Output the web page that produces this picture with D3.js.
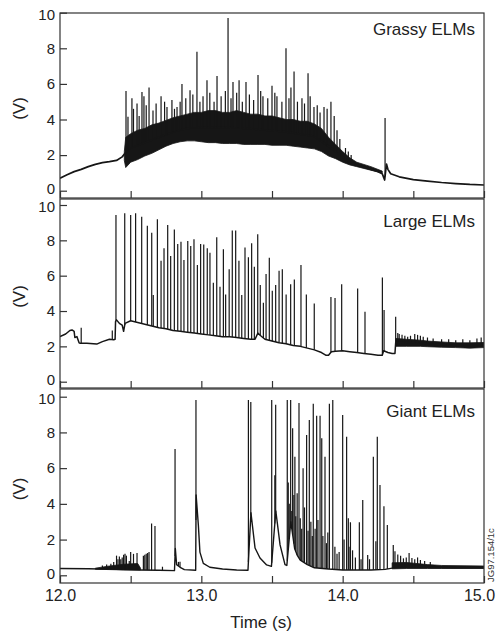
<!DOCTYPE html>
<html><head><meta charset="utf-8">
<script src="https://cdn.jsdelivr.net/npm/d3@7"></script>
<style>body{margin:0;background:#fff}svg{display:block}</style>
</head><body>
<svg id="c" width="496" height="634"></svg>
<script>
// ---------------- DATA ----------------
const X_TICKS = [12, 12.5, 13, 13.5, 14, 14.5, 15];
const X_LABELS = ["12.0", "", "13.0", "", "14.0", "", "15.0"];
const Y_TICKS = [0, 2, 4, 6, 8, 10];
const TITLES = ["Grassy ELMs", "Large ELMs", "Giant ELMs"];
const Y_LABEL = "(V)";
const X_LABEL = "Time (s)";
const FIG_ID = "JG97.154/1c";

// Grassy ELMs: baseline [t, V], dense band [t, low, high], spikes [t, peak]
const grassyBase = [[12.0,0.7],[12.05,0.9],[12.1,1.07],[12.15,1.2],[12.2,1.35],[12.25,1.48],[12.3,1.58],[12.35,1.63],[12.4,1.7],[12.44,1.9],[12.46,2.1],[12.5,2.4],[12.6,2.7],[12.7,3.0],[12.8,3.3],[12.9,3.5],[13.0,3.55],[13.2,3.55],[13.4,3.45],[13.6,3.3],[13.8,3.05],[13.9,2.5],[14.0,1.9],[14.05,1.6],[14.1,1.45],[14.15,1.32],[14.2,1.2],[14.25,1.07],[14.28,0.95],[14.29,0.75],[14.297,0.6],[14.31,1.5],[14.32,1.2],[14.34,0.95],[14.4,0.78],[14.5,0.62],[14.6,0.54],[14.7,0.46],[14.8,0.4],[14.9,0.35],[15.0,0.32]];
const grassyBand = [[12.455,1.7,2.2],[12.465,1.3,3.0],[12.5,1.6,3.2],[12.55,1.75,3.4],[12.6,1.95,3.5],[12.65,2.1,3.7],[12.7,2.3,3.8],[12.75,2.5,3.95],[12.8,2.65,4.1],[12.85,2.75,4.2],[12.9,2.8,4.3],[12.95,2.8,4.4],[13.0,2.75,4.4],[13.05,2.7,4.5],[13.1,2.7,4.5],[13.15,2.65,4.4],[13.2,2.65,4.4],[13.25,2.65,4.5],[13.3,2.6,4.4],[13.35,2.6,4.3],[13.4,2.6,4.3],[13.45,2.6,4.2],[13.5,2.55,4.2],[13.55,2.55,4.1],[13.6,2.55,4.0],[13.65,2.5,4.0],[13.7,2.45,3.9],[13.75,2.4,3.9],[13.8,2.35,3.75],[13.85,2.2,3.5],[13.9,1.95,3.0],[13.95,1.8,2.6],[14.0,1.6,2.2],[14.05,1.45,1.85],[14.1,1.35,1.6],[14.2,1.15,1.35],[14.28,1.0,1.1]];
const grassySpikes = [[12.467,5.6],[12.481,4.15],[12.509,5.2],[12.52,4.6],[12.545,4.9],[12.56,4.2],[12.58,5.55],[12.594,5.3],[12.61,4.8],[12.63,5.8],[12.658,4.5],[12.68,4.9],[12.715,5.3],[12.74,5.0],[12.757,4.7],[12.792,5.1],[12.81,4.6],[12.828,4.7],[12.85,5.0],[12.863,6.0],[12.89,5.2],[12.92,5.65],[12.94,5.4],[12.969,7.8],[12.99,5.0],[13.012,5.3],[13.04,6.2],[13.06,5.5],[13.09,5.0],[13.111,6.45],[13.14,5.3],[13.17,5.6],[13.189,9.7],[13.21,5.2],[13.224,6.1],[13.25,5.5],[13.267,6.2],[13.29,5.0],[13.316,6.1],[13.34,5.4],[13.37,5.1],[13.401,6.5],[13.42,5.6],[13.436,5.3],[13.47,5.2],[13.5,5.9],[13.52,5.5],[13.535,5.3],[13.57,5.0],[13.599,8.0],[13.62,5.2],[13.634,5.8],[13.656,6.7],[13.68,5.0],[13.712,5.2],[13.73,4.9],[13.755,6.6],[13.77,5.3],[13.797,4.7],[13.82,4.8],[13.84,4.4],[13.868,4.7],[13.89,4.6],[13.917,5.0],[13.94,4.2],[13.96,3.4],[13.98,2.9],[14.02,2.4],[14.04,2.2],[14.06,2.0],[14.30,4.08]];

// Large ELMs
const largeBase = [[12.0,2.55],[12.04,2.7],[12.07,2.9],[12.085,2.93],[12.1,2.85],[12.105,2.5],[12.12,2.55],[12.135,2.2],[12.14,2.18],[12.19,2.18],[12.26,2.13],[12.3,2.27],[12.35,2.4],[12.38,2.37],[12.39,2.4],[12.393,3.4],[12.4,3.5],[12.42,3.3],[12.44,3.2],[12.45,2.85],[12.46,3.3],[12.5,3.45],[12.55,3.35],[12.6,3.25],[12.65,3.15],[12.7,3.05],[12.75,3.0],[12.8,2.9],[12.85,2.85],[12.9,2.8],[12.95,2.75],[13.0,2.7],[13.05,2.65],[13.1,2.6],[13.15,2.55],[13.2,2.55],[13.25,2.5],[13.3,2.45],[13.35,2.4],[13.38,2.4],[13.4,2.75],[13.42,2.6],[13.45,2.4],[13.5,2.3],[13.55,2.2],[13.6,2.15],[13.65,2.05],[13.7,2.0],[13.75,1.9],[13.8,1.8],[13.85,1.65],[13.88,1.5],[13.9,1.5],[13.92,1.7],[13.95,1.72],[14.0,1.75],[14.05,1.7],[14.1,1.65],[14.15,1.6],[14.2,1.55],[14.25,1.5],[14.28,1.5],[14.29,1.75],[14.32,1.65],[14.35,1.6],[14.37,1.6],[14.375,2.2],[14.4,2.25],[14.5,2.2],[14.6,2.15],[14.7,2.1],[14.8,2.05],[14.9,2.0],[15.0,2.05]];
const largeBand = [[14.375,2.0,2.45],[14.45,2.0,2.4],[14.55,2.0,2.35],[14.6,1.98,2.3],[14.7,1.95,2.25],[14.8,1.93,2.2],[14.9,1.9,2.2],[15.0,1.93,2.22]];
const largeSpikes = [[12.15,3.05],[12.37,2.9],[12.396,9.43],[12.458,9.53],[12.5,9.43],[12.535,9.53],[12.578,9.34],[12.618,8.83],[12.649,8.43],[12.66,4.9],[12.689,9.2],[12.715,6.85],[12.736,7.55],[12.762,8.87],[12.783,7.11],[12.809,8.62],[12.833,7.79],[12.856,7.92],[12.877,6.89],[12.904,7.96],[12.925,7.68],[12.948,8.06],[12.972,6.6],[12.995,7.79],[13.017,7.77],[13.042,7.55],[13.061,7.3],[13.085,5.6],[13.109,8.17],[13.132,5.38],[13.156,7.49],[13.172,4.94],[13.197,6.36],[13.219,8.55],[13.243,8.55],[13.266,6.85],[13.286,4.9],[13.309,7.6],[13.333,7.04],[13.356,7.83],[13.375,6.51],[13.399,8.34],[13.417,5.47],[13.439,4.47],[13.458,6.09],[13.481,7.02],[13.502,5.15],[13.526,5.47],[13.55,6.28],[13.573,6.36],[13.6,4.94],[13.632,5.51],[13.658,5.79],[13.705,6.6],[13.743,4.94],[13.799,4.43],[13.917,4.79],[13.946,4.73],[13.993,5.52],[14.106,5.28],[14.158,3.96],[14.281,5.89],[14.293,4.06],[14.375,3.68],[14.39,2.75],[14.4,2.7],[14.42,2.65],[14.44,2.6],[14.46,2.55],[14.48,2.6],[14.51,2.7],[14.53,2.65],[14.55,2.6],[14.57,2.55],[14.6,2.5],[14.64,2.45],[14.7,2.4],[14.75,2.4],[14.8,2.35],[14.85,2.4],[14.9,2.35],[14.95,2.45],[14.98,2.5]];

// Giant ELMs
const giantBase = [[12.0,0.38],[12.2,0.37],[12.4,0.33],[12.56,0.3],[12.7,0.28],[12.81,0.26],[12.816,1.5],[12.825,0.6],[12.85,0.45],[12.88,0.32],[12.96,0.28],[12.963,4.5],[12.979,2.8],[12.99,1.3],[13.014,0.67],[13.06,0.45],[13.15,0.35],[13.25,0.3],[13.33,0.28],[13.351,3.5],[13.38,1.53],[13.415,0.97],[13.462,0.58],[13.496,0.5],[13.527,3.6],[13.557,1.7],[13.592,0.6],[13.605,0.55],[13.633,3.0],[13.66,1.5],[13.68,1.1],[13.7,0.85],[13.75,0.6],[13.8,0.42],[13.9,0.35],[14.0,0.3],[14.2,0.3],[14.3,0.33],[14.35,0.4],[14.45,0.45],[14.6,0.45],[14.8,0.42],[15.0,0.42]];
const giantBand = [[12.25,0.34,0.4],[12.35,0.32,0.52],[12.45,0.3,0.62],[12.55,0.3,0.66],[12.57,0.3,0.4]];
const giantBand2 = [[14.35,0.36,0.7],[14.45,0.38,0.72],[14.6,0.38,0.6],[14.7,0.38,0.55],[15.0,0.38,0.52]];
const giantSpikes = [[12.3,0.55],[12.33,0.6],[12.36,0.65],[12.38,0.75],[12.4,1.1],[12.41,0.9],[12.42,1.05],[12.43,0.9],[12.44,1.0],[12.45,1.15],[12.46,1.2],[12.47,1.1],[12.49,0.8],[12.5,1.3],[12.52,1.2],[12.545,1.25],[12.59,1.1],[12.6,1.15],[12.61,1.2],[12.62,1.25],[12.63,1.3],[12.648,2.9],[12.672,2.76],[12.725,0.48],[12.814,7.07],[12.838,0.75],[12.849,0.76],[12.962,9.82],[13.333,9.82],[13.35,9.7],[13.498,9.82],[13.52,5.6],[13.526,9.55],[13.608,9.82],[13.615,5.2],[13.622,4.0],[13.632,9.82],[13.64,3.6],[13.646,8.23],[13.655,4.5],[13.662,6.64],[13.668,3.3],[13.678,4.6],[13.691,9.65],[13.7,3.2],[13.71,2.6],[13.72,5.99],[13.73,3.8],[13.745,7.85],[13.755,2.5],[13.764,8.7],[13.775,3.0],[13.785,2.2],[13.792,9.6],[13.805,2.6],[13.816,8.94],[13.825,3.1],[13.84,8.94],[13.852,7.67],[13.86,2.2],[13.875,6.64],[13.885,1.8],[13.895,2.4],[13.906,9.6],[13.93,9.82],[13.945,1.6],[13.96,1.2],[13.975,1.3],[14.0,8.98],[14.01,2.0],[14.028,7.76],[14.04,3.2],[14.045,1.6],[14.055,2.97],[14.07,1.4],[14.09,1.0],[14.118,2.97],[14.13,0.9],[14.142,4.22],[14.177,1.14],[14.19,0.9],[14.217,6.64],[14.235,1.9],[14.245,7.76],[14.264,5.06],[14.292,3.86],[14.316,2.82],[14.358,1.7],[14.37,1.35],[14.39,1.16],[14.41,1.1],[14.43,0.95],[14.45,1.0],[14.47,1.25],[14.49,0.97],[14.51,0.9],[14.53,1.0],[14.55,0.85],[14.58,0.8],[14.62,0.75]];

// ---------------- LAYOUT ----------------
const svg = d3.select("#c");
const FONT = "'Liberation Sans', Arial, Helvetica, sans-serif";
const x = d3.scaleLinear().domain([12, 15]).range([60, 484]);
const layout = [
  {top: 13, bottom: 198, y0: 190.7, y10: 12.7, titleY: 35, base: grassyBase, bands: [grassyBand], spikes: grassySpikes, sw: 1.7},
  {top: 199, bottom: 388, y0: 381.7, y10: 205, titleY: 227, base: largeBase, bands: [largeBand], spikes: largeSpikes, sw: 1.5},
  {top: 389, bottom: 583, y0: 575.3, y10: 396.7, titleY: 417, base: giantBase, bands: [giantBand, giantBand2], spikes: giantSpikes, sw: 1.4}
];
const INK = "#161616";

layout.forEach((p, i) => {
  const y = d3.scaleLinear().domain([0, 10]).range([p.y0, p.y10]);
  const g = svg.append("g");
  const cid = "clip" + i;
  svg.append("clipPath").attr("id", cid).append("rect")
    .attr("x", 60).attr("y", p.top).attr("width", 424).attr("height", p.bottom - p.top);
  const plot = g.append("g").attr("clip-path", `url(#${cid})`);

  p.bands.forEach(b => {
    plot.append("path").datum(b)
      .attr("d", d3.area().x(d => x(d[0])).y0(d => y(d[1])).y1(d => y(d[2])))
      .attr("fill", INK).attr("stroke", INK).attr("stroke-width", 0.8);
  });
  plot.append("path").datum(p.base)
    .attr("d", d3.line().x(d => x(d[0])).y(d => y(d[1])))
    .attr("fill", "none").attr("stroke", INK).attr("stroke-width", p.sw).attr("stroke-linejoin", "round");

  const bis = d3.bisector(d => d[0]).left;
  const baseAt = t => {
    const k = Math.max(1, Math.min(p.base.length - 1, bis(p.base, t)));
    const a = p.base[k - 1], b = p.base[k];
    return a[1] + (b[1] - a[1]) * (t - a[0]) / (b[0] - a[0]);
  };
  plot.selectAll("line.sp").data(p.spikes).join("line").attr("class", "sp")
    .attr("x1", d => x(d[0])).attr("x2", d => x(d[0]))
    .attr("y1", d => y(baseAt(d[0]))).attr("y2", d => y(d[1]))
    .attr("stroke", INK).attr("stroke-width", 1.2);

  // frame
  g.append("rect").attr("x", 60).attr("y", p.top).attr("width", 424).attr("height", p.bottom - p.top)
    .attr("fill", "none").attr("stroke", "#333").attr("stroke-width", 1.2);

  // y axis
  const ya = g.append("g").attr("transform", "translate(60,0)")
    .call(d3.axisLeft(y).tickValues(Y_TICKS).tickSize(-7).tickPadding(5).tickFormat(d3.format("d")));
  ya.select(".domain").remove();
  ya.selectAll("line").attr("stroke", "#333").attr("stroke-width", 1.2);
  ya.selectAll("text").attr("font-family", FONT).attr("font-size", 15).attr("fill", "#222")
    .attr("y", d => d === 0 ? -2 : (d === 10 ? 2 : 0));

  // x axis (ticks on every panel, labels on the last)
  const last = i === layout.length - 1;
  const xa = g.append("g").attr("transform", `translate(0,${p.bottom})`)
    .call(d3.axisBottom(x).tickValues(X_TICKS).tickSize(-7).tickPadding(7)
      .tickFormat((d, k) => last ? X_LABELS[k] : ""));
  xa.select(".domain").remove();
  xa.selectAll("line").attr("stroke", "#333").attr("stroke-width", 1.2);
  xa.selectAll("text").attr("font-family", FONT).attr("font-size", 16).attr("fill", "#222")
    .attr("dx", (d, k) => k === X_TICKS.length - 1 ? -5 : 0);

  // y label
  g.append("text").attr("transform", `translate(25,${(p.top + p.bottom) / 2 + 3}) rotate(-90)`)
    .attr("text-anchor", "middle").attr("font-family", FONT).attr("font-size", 17).attr("fill", "#222")
    .text(Y_LABEL);
  // title
  g.append("text").attr("x", 475).attr("y", p.titleY).attr("text-anchor", "end")
    .attr("font-family", FONT).attr("font-size", 17).attr("fill", "#222").text(TITLES[i]);
});

svg.append("text").attr("x", 261).attr("y", 628).attr("text-anchor", "middle")
  .attr("font-family", FONT).attr("font-size", 17).attr("fill", "#222").text(X_LABEL);
svg.append("text").attr("transform", "translate(494,582) rotate(-90)")
  .attr("font-family", FONT).attr("font-size", 9.5).attr("fill", "#333").text(FIG_ID);
</script>
</body></html>
